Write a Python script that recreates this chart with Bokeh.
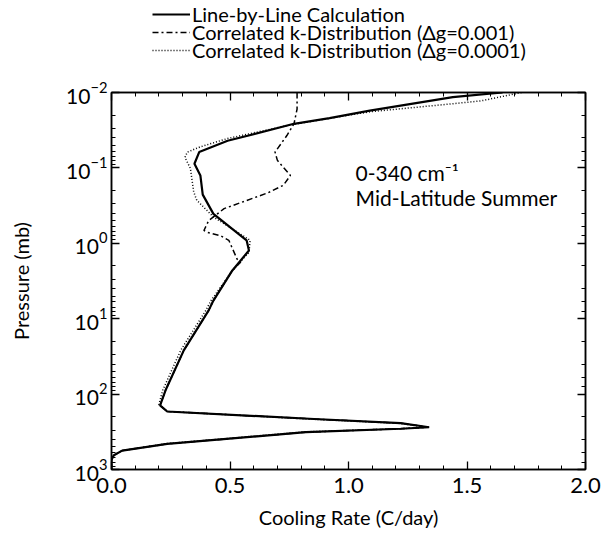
from bokeh.plotting import figure
from bokeh.layouts import column
from bokeh.models import (Range1d, LinearAxis, LogAxis, Legend, LegendItem, Label,
                          SingleIntervalTicker, NumeralTickFormatter, LogTicker,
                          CustomJSTickFormatter)
from bokeh.embed import file_html
from bokeh.resources import INLINE

FONT = "Lato"

# ---- data (cooling rate C/day, pressure mb) ----
lbl_rate = [1.65, 1.44, 1.09, 0.92, 0.77, 0.49, 0.37, 0.35, 0.375, 0.385, 0.43, 0.57, 0.58,
            0.51, 0.43, 0.41, 0.305, 0.228, 0.205, 0.235, 0.855, 1.22, 1.34, 1.22, 0.82,
            0.235, 0.045, 0.01, 0.0, 0.0]
lbl_pres = [0.0100, 0.0115, 0.0174, 0.0219, 0.026, 0.0437, 0.0617, 0.088, 0.126, 0.226,
            0.407, 0.912, 1.245, 2.29, 5.75, 7.76, 26.3, 89.0, 141.0, 170.0, 214.0, 243.0,
            275.0, 288.0, 320.0, 457.0, 562.0, 646.0, 741.0, 1000.0]

ck3_rate = [0.783, 0.783, 0.77, 0.74, 0.69, 0.70, 0.755, 0.725, 0.66, 0.475, 0.41, 0.39,
            0.40, 0.46, 0.495, 0.53, 0.545, 0.51, 0.47, 0.43, 0.41, 0.305, 0.228, 0.205,
            0.235, 0.855, 1.22, 1.34, 1.22, 0.82, 0.235, 0.045, 0.01, 0.0, 0.0]
ck3_pres = [0.0100, 0.0166, 0.026, 0.0372, 0.0617, 0.0794, 0.126, 0.170, 0.214, 0.347,
            0.50, 0.676, 0.708, 0.794, 0.912, 1.62, 1.78, 2.29, 3.63, 5.75, 7.76, 26.3,
            89.0, 141.0, 170.0, 214.0, 243.0, 275.0, 288.0, 320.0, 457.0, 562.0, 646.0,
            741.0, 1000.0]

ck4_rate = [1.73, 1.56, 1.44, 1.09, 0.92, 0.77, 0.49, 0.375, 0.32, 0.31, 0.333, 0.347,
            0.36, 0.43, 0.585, 0.58, 0.51, 0.42, 0.398, 0.292, 0.216, 0.20, 0.235, 0.855,
            1.22, 1.33, 1.22, 0.82, 0.235, 0.045, 0.01, 0.0, 0.0]
ck4_pres = [0.0100, 0.0129, 0.0141, 0.018, 0.0221, 0.0263, 0.0407, 0.0525, 0.0617, 0.0724,
            0.102, 0.209, 0.269, 0.447, 0.912, 1.32, 2.29, 5.75, 7.76, 26.3, 89.0, 138.0,
            170.0, 216.0, 245.0, 275.0, 288.0, 316.0, 452.0, 562.0, 646.0, 741.0, 1000.0]

series_names = ["Line-by-Line Calculation",
                "Correlated k-Distribution (\u0394g=0.001)",
                "Correlated k-Distribution (\u0394g=0.0001)"]
series_rate = [lbl_rate, ck3_rate, ck4_rate]
series_pres = [lbl_pres, ck3_pres, ck4_pres]

x_ticks_interval = 0.5
LEG_H = 70

# ---------------- main chart ----------------
p = figure(width=612, height=533 - LEG_H, x_range=Range1d(0, 2), y_range=Range1d(1000, 0.01),
           y_axis_type="log", output_backend="svg", toolbar_location=None,
           min_border_left=111, min_border_top=92 - LEG_H, min_border_right=27,
           min_border_bottom=64)
p.xgrid.visible = False
p.ygrid.visible = False
p.outline_line_color = "black"
p.outline_line_width = 1.5
p.background_fill_color = "white"
p.border_fill_color = "white"

STYLES = [dict(line_width=2.2),
          dict(line_width=1.5, line_dash="6 3 2 3"),
          dict(line_width=1.5, line_dash="1 2")]

for i in (2, 1, 0):
    p.line(series_rate[i], series_pres[i], line_color="black", **STYLES[i])

def style(ax):
    ax.major_tick_in = 8
    ax.major_tick_out = 0
    ax.minor_tick_in = 4
    ax.minor_tick_out = 0
    ax.axis_line_width = 1.5
    ax.major_tick_line_width = 1.3
    ax.minor_tick_line_width = 1.0
    ax.axis_line_color = "black"
    ax.major_tick_line_color = "black"
    ax.minor_tick_line_color = "black"
    ax.major_label_text_color = "black"
    ax.major_label_text_font = FONT
    ax.axis_label_text_font = FONT
    ax.axis_label_text_font_style = "normal"
    ax.axis_label_text_color = "black"

xa = p.xaxis[0]
xa.ticker = SingleIntervalTicker(interval=x_ticks_interval, num_minor_ticks=5)
xa.formatter = NumeralTickFormatter(format="0.0")
style(xa)
xa.major_label_text_font_size = "22px"
xa.major_label_standoff = 8
xa.axis_label = "Cooling Rate (C/day)"
xa.axis_label_text_font_size = "20px"
xa.axis_label_standoff = 9

ya = p.yaxis[0]
style(ya)
ya.major_label_text_font_size = "21px"
ya.major_label_standoff = 4
ya.axis_label = "Pressure (mb)"
ya.axis_label_text_font_size = "20px"
ya.axis_label_standoff = 30

blank = CustomJSTickFormatter(code="return ''")
top = LinearAxis(ticker=SingleIntervalTicker(interval=x_ticks_interval, num_minor_ticks=5),
                 formatter=blank)
style(top)
top.major_label_standoff = 0
top.major_label_text_font_size = "0px"
p.add_layout(top, "above")

right = LogAxis(ticker=LogTicker(), formatter=blank)
style(right)
right.major_label_standoff = 0
right.major_label_text_font_size = "0px"
p.add_layout(right, "right")

for txt, yv in [("0-340 cm\u207b\u00b9", 0.115), ("Mid-Latitude Summer", 0.247)]:
    p.add_layout(Label(x=1.03, y=yv, text=txt, text_baseline="middle", text_align="left",
                       text_font=FONT, text_font_size="21px", text_color="black"))

# ---------------- legend strip above the chart ----------------
# key renderers carry the same series, but the strip's y range lies outside the data,
# so only the legend samples are visible
lg = figure(width=612, height=LEG_H, x_range=Range1d(0, 2), y_range=Range1d(-2, -1),
            output_backend="svg", toolbar_location=None,
            x_axis_location=None, y_axis_location=None,
            min_border_left=0, min_border_right=0, min_border_top=0, min_border_bottom=0)
lg.xgrid.visible = False
lg.ygrid.visible = False
lg.outline_line_color = None
lg.background_fill_color = "white"
lg.border_fill_color = "white"

keys = [lg.line(series_rate[i], series_pres[i], line_color="black", **STYLES[i])
        for i in range(3)]

row_bottoms = [44, 26, 8]   # px above the strip's bottom edge, one legend row each
for name, key, vy in zip(series_names, keys, row_bottoms):
    leg = Legend(items=[LegendItem(label=name, renderers=[key])], location=(41, vy))
    leg.border_line_color = None
    leg.background_fill_alpha = 0
    leg.padding = 0
    leg.margin = 0
    leg.spacing = 0
    leg.glyph_width = 38
    leg.glyph_height = 18
    leg.label_height = 18
    leg.label_standoff = 2
    leg.label_text_font = FONT
    leg.label_text_font_size = "20px"
    leg.label_text_color = "black"
    lg.add_layout(leg)

page = column(lg, p, spacing=0)
open("out.html", "w").write(file_html(page, INLINE))
